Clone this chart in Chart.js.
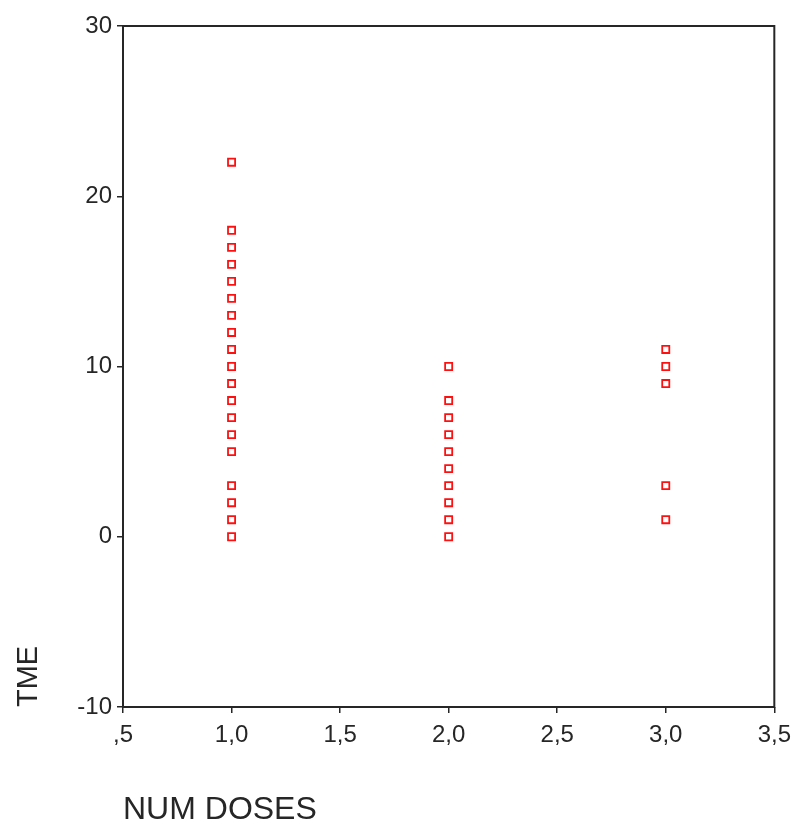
<!DOCTYPE html>
<html>
<head>
<meta charset="utf-8">
<script src="https://cdn.jsdelivr.net/npm/chart.js@4"></script>
<style>
  body { margin: 0; background: #fff; }
  canvas { display: block; }
</style>
</head>
<body>
<canvas id="scatterChart" width="799" height="826"></canvas>
<script>
// dados
const numDoses = [1, 2, 3];
const tmeDose1 = [22, 18, 17, 16, 15, 14, 13, 12, 11, 10, 9, 8, 7, 6, 5, 3, 2, 1, 0];
const tmeDose2 = [10, 8, 7, 6, 5, 4, 3, 2, 1, 0];
const tmeDose3 = [11, 10, 9, 3, 1];
const xTickLabels = [',5', '1,0', '1,5', '2,0', '2,5', '3,0', '3,5'];
const yTickLabels = ['-10', '0', '10', '20', '30'];

const allTme = [tmeDose1, tmeDose2, tmeDose3];
const points = [];
numDoses.forEach((d, i) => {
    allTme[i].forEach(v => points.push({ x: d, y: v }));
});

const ink = '#262626';
const fontFam = '"Liberation Sans", Arial, sans-serif';

// moldura em volta da área do gráfico
const frame = {
    id: 'frame',
    afterDraw(chart) {
        const { ctx, chartArea: a } = chart;
        ctx.save();
        ctx.strokeStyle = ink;
        ctx.lineWidth = 2;
        ctx.strokeRect(a.left, a.top, a.right - a.left, a.bottom - a.top);
        ctx.restore();
    }
};

const ctx = document.getElementById('scatterChart').getContext('2d');

new Chart(ctx, {
    type: 'scatter',
    data: {
        datasets: [{
            label: 'TME',
            data: points,
            pointStyle: 'rect',
            pointRadius: 5,
            pointBorderWidth: 1.8,
            pointBorderColor: '#ff1010',
            pointBackgroundColor: '#ffffff',
            pointHoverRadius: 5
        }]
    },
    options: {
        responsive: false,
        animation: false,
        layout: { padding: { top: 26, right: 24, left: 0, bottom: 0 } },
        plugins: {
            legend: { display: false },
            tooltip: { enabled: false }
        },
        scales: {
            x: {
                type: 'linear',
                min: 0.5,
                max: 3.5,
                afterFit(scale) { scale.height = 119; },
                afterBuildTicks(scale) {
                    scale.ticks = xTickLabels.map((t, i) => ({ value: 0.5 + i * 0.5 }));
                },
                ticks: {
                    color: ink,
                    font: { family: fontFam, size: 24 },
                    padding: 8,
                    maxRotation: 0,
                    callback: (v, i) => xTickLabels[i]
                },
                grid: { drawOnChartArea: false, tickLength: 6, color: ink, lineWidth: 1.5 },
                border: { display: false },
                title: {
                    display: true,
                    text: 'NUM DOSES',
                    align: 'start',
                    color: ink,
                    font: { family: fontFam, size: 32, lineHeight: 1 },
                    padding: { top: 0, bottom: 0 }
                }
            },
            y: {
                type: 'linear',
                min: -10,
                max: 30,
                afterFit(scale) { scale.width = 123; },
                afterBuildTicks(scale) {
                    scale.ticks = yTickLabels.map((t, i) => ({ value: -10 + i * 10 }));
                },
                ticks: {
                    color: ink,
                    font: { family: fontFam, size: 24 },
                    padding: 5,
                    callback: (v, i) => yTickLabels[i]
                },
                grid: { drawOnChartArea: false, tickLength: 6, color: ink, lineWidth: 1.5 },
                border: { display: false },
                title: {
                    display: true,
                    text: 'TME',
                    align: 'start',
                    color: ink,
                    font: { family: fontFam, size: 29, lineHeight: 1 },
                    padding: { top: 14, bottom: 0 }
                }
            }
        }
    },
    plugins: [frame]
});
</script>
</body>
</html>
